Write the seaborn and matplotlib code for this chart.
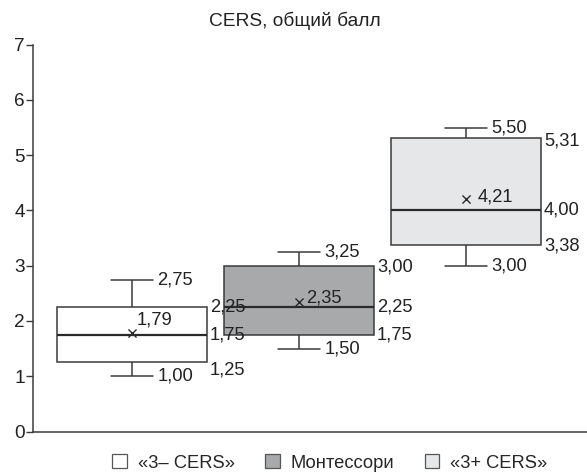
import numpy as np
import pandas as pd
import matplotlib
matplotlib.use("Agg")
import matplotlib.pyplot as plt
import seaborn as sns
from matplotlib.patches import Patch

# Five-number summaries and means of the CERS total score per group
groups = ["«3– CERS»", "Монтессори", "«3+ CERS»"]
whisker_low = [1.00, 1.50, 3.00]
q1 = [1.25, 1.75, 3.38]
median = [1.75, 2.25, 4.00]
q3 = [2.25, 3.00, 5.31]
whisker_high = [2.75, 3.25, 5.50]
means = [1.79, 2.35, 4.21]
y_ticks = [0, 1, 2, 3, 4, 5, 6, 7]

fills = ["#ffffff", "#a7a9ac", "#e6e7e8"]
edge = "#3a3a3a"
FS = 13.2


def fmt(v):
    return f"{v:.2f}".replace(".", ",")


sns.set_theme(style="white")
plt.rcParams["font.family"] = ["Liberation Sans", "DejaVu Sans"]
plt.rcParams["font.size"] = FS

# Long table: each group's summary points; the box is drawn with whiskers at min/max
rows = []
for g, a, b, c, d, e in zip(groups, whisker_low, q1, median, q3, whisker_high):
    for v in (a, b, c, d, e):
        rows.append({"group": g, "score": v})
df = pd.DataFrame(rows)

fig = plt.figure(figsize=(5.87, 4.73), dpi=100)
ax = fig.add_axes([0.0562, 0.0877, 0.9438, 0.818])

sns.boxplot(
    data=df, x="group", y="score", hue="group", palette=fills,
    whis=(0, 100), width=0.9, showfliers=False, legend=False,
    linecolor=edge, linewidth=1.1, capwidths=0.25,
    medianprops={"color": "#2a2a2a", "linewidth": 1.6},
    ax=ax,
)

pos = np.arange(len(groups))
ax.scatter(pos, means, marker="x", s=34, color="#2a2a2a", linewidths=1.0, zorder=5)

px = 0.72  # points per pixel at 100 dpi
box_half = 0.45
cap_half = 0.125
txt = "#222222"

# Mean labels
mean_off = [(5, 13), (7, 4), (12, 2)]
for i, m in enumerate(means):
    ax.annotate(fmt(m), (pos[i], m), xytext=(mean_off[i][0] * px, mean_off[i][1] * px),
                textcoords="offset points", ha="left", va="center", fontsize=FS,
                color=txt)

# Whisker labels next to the caps
for i in range(len(groups)):
    for v in (whisker_low[i], whisker_high[i]):
        ax.annotate(fmt(v), (pos[i] + cap_half, v), xytext=(5 * px, 0),
                    textcoords="offset points", ha="left", va="center",
                    fontsize=FS, color=txt)

# Quartile and median labels on the right edge of each box
q1_off = [-8, 0, -1]
q3_off = [0, -1, -3]
for i in range(len(groups)):
    xr = pos[i] + box_half
    for v, dy in ((q3[i], q3_off[i]), (median[i], 0), (q1[i], q1_off[i])):
        ax.annotate(fmt(v), (xr, v), xytext=(3 * px, dy * px),
                    textcoords="offset points", ha="left", va="center",
                    fontsize=FS, color=txt)

ax.set_xlim(-0.591, 2.726)
ax.set_ylim(0, 7)
ax.set_yticks(y_ticks)
ax.set_yticklabels([str(t) for t in y_ticks])
ax.set_xticks([])
ax.set_xlabel("")
ax.set_ylabel("")
for side in ("top", "right"):
    ax.spines[side].set_visible(False)
for side in ("left", "bottom"):
    ax.spines[side].set_color("#3c3c3c")
    ax.spines[side].set_linewidth(1.1)
ax.tick_params(axis="y", left=True, length=5, width=1.0, color="#3c3c3c",
               pad=1, labelsize=FS + 0.5, labelcolor=txt)

# Title centred on the whole figure
fig.text(0.503, 0.956, "CERS, общий балл", ha="center", va="center",
         fontsize=FS + 0.6, color=txt)

handles = [Patch(facecolor=f, edgecolor="#555555", linewidth=0.9) for f in fills]
fig.legend(handles, groups, loc="center", bbox_to_anchor=(0.562, 0.021),
           ncol=3, frameon=False, fontsize=FS, handlelength=0.8,
           handleheight=0.8, handletextpad=0.6, columnspacing=1.65,
           borderaxespad=0, borderpad=0)

fig.savefig("out.png", dpi=100)
